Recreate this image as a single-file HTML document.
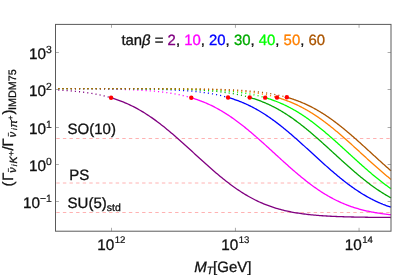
<!DOCTYPE html>
<html><head><meta charset="utf-8"><style>
html,body{margin:0;padding:0;background:#fff;}
text{stroke:#111;stroke-width:0.3px;}
svg{display:block;will-change:transform;text-rendering:geometricPrecision;font-family:"Liberation Sans",sans-serif;fill:#111;}
</style></head><body>
<svg width="415" height="275" viewBox="0 0 415 275">

<line x1="55.5" y1="138.5" x2="391.0" y2="138.5" stroke="#ff8888" stroke-width="0.65" stroke-dasharray="3.4 3.2" stroke-dashoffset="-0.8"/>
<line x1="55.5" y1="183.0" x2="391.0" y2="183.0" stroke="#ff8888" stroke-width="0.65" stroke-dasharray="3.4 3.2" stroke-dashoffset="-0.8"/>
<line x1="55.5" y1="212.5" x2="391.0" y2="212.5" stroke="#ff8888" stroke-width="0.65" stroke-dasharray="3.4 3.2" stroke-dashoffset="-0.8"/>
<path d="M55.50,89.93 L55.78,89.94 L56.06,89.96 L56.33,89.97 L56.61,89.99 L56.89,90.00 L57.17,90.01 L57.45,90.03 L57.72,90.04 L58.00,90.06 L58.28,90.07 L58.56,90.09 L58.83,90.10 L59.11,90.12 L59.39,90.13 L59.67,90.15 L59.95,90.16 L60.22,90.18 L60.50,90.19 L60.78,90.21 L61.06,90.23 L61.34,90.24 L61.61,90.26 L61.89,90.28 L62.17,90.29 L62.45,90.31 L62.73,90.33 L63.00,90.35 L63.28,90.36 L63.56,90.38 L63.84,90.40 L64.11,90.42 L64.39,90.44 L64.67,90.45 L64.95,90.47 L65.23,90.49 L65.50,90.51 L65.78,90.53 L66.06,90.55 L66.34,90.57 L66.62,90.59 L66.89,90.61 L67.17,90.63 L67.45,90.65 L67.73,90.67 L68.01,90.69 L68.28,90.71 L68.56,90.73 L68.84,90.75 L69.12,90.77 L69.39,90.80 L69.67,90.82 L69.95,90.84 L70.23,90.86 L70.51,90.88 L70.78,90.91 L71.06,90.93 L71.34,90.95 L71.62,90.98 L71.90,91.00 L72.17,91.03 L72.45,91.05 L72.73,91.07 L73.01,91.10 L73.29,91.12 L73.56,91.15 L73.84,91.17 L74.12,91.20 L74.40,91.22 L74.68,91.25 L74.95,91.28 L75.23,91.30 L75.51,91.33 L75.79,91.36 L76.06,91.39 L76.34,91.41 L76.62,91.44 L76.90,91.47 L77.18,91.50 L77.45,91.53 L77.73,91.55 L78.01,91.58 L78.29,91.61 L78.57,91.64 L78.84,91.67 L79.12,91.70 L79.40,91.73 L79.68,91.76 L79.96,91.80 L80.23,91.83 L80.51,91.86 L80.79,91.89 L81.07,91.92 L81.34,91.96 L81.62,91.99 L81.90,92.02 L82.18,92.06 L82.46,92.09 L82.73,92.12 L83.01,92.16 L83.29,92.19 L83.57,92.23 L83.85,92.26 L84.12,92.30 L84.40,92.34 L84.68,92.37 L84.96,92.41 L85.24,92.45 L85.51,92.48 L85.79,92.52 L86.07,92.56 L86.35,92.60 L86.62,92.64 L86.90,92.68 L87.18,92.72 L87.46,92.76 L87.74,92.80 L88.01,92.84 L88.29,92.88 L88.57,92.92 L88.85,92.96 L89.13,93.00 L89.40,93.05 L89.68,93.09 L89.96,93.13 L90.24,93.18 L90.52,93.22 L90.79,93.27 L91.07,93.31 L91.35,93.36 L91.63,93.40 L91.90,93.45 L92.18,93.49 L92.46,93.54 L92.74,93.59 L93.02,93.64 L93.29,93.68 L93.57,93.73 L93.85,93.78 L94.13,93.83 L94.41,93.88 L94.68,93.93 L94.96,93.98 L95.24,94.03 L95.52,94.09 L95.80,94.14 L96.07,94.19 L96.35,94.24 L96.63,94.30 L96.91,94.35 L97.18,94.41 L97.46,94.46 L97.74,94.52 L98.02,94.57 L98.30,94.63 L98.57,94.68 L98.85,94.74 L99.13,94.80 L99.41,94.86 L99.69,94.92 L99.96,94.98 L100.24,95.04 L100.52,95.10 L100.80,95.16 L101.08,95.22 L101.35,95.28 L101.63,95.34 L101.91,95.41 L102.19,95.47 L102.47,95.53 L102.74,95.60 L103.02,95.66 L103.30,95.73 L103.58,95.79 L103.85,95.86 L104.13,95.93 L104.41,95.99 L104.69,96.06 L104.97,96.13 L105.24,96.20 L105.52,96.27 L105.80,96.34 L106.08,96.41 L106.36,96.48 L106.63,96.56 L106.91,96.63 L107.19,96.70 L107.47,96.78 L107.75,96.85 L108.02,96.93 L108.30,97.00 L108.58,97.08 L108.86,97.15 L109.13,97.23 L109.41,97.31 L109.69,97.39 L109.97,97.47 L110.25,97.55 L110.52,97.63 L110.80,97.71 L111.08,97.79" fill="none" stroke="#800080" stroke-width="1.3" stroke-dasharray="1.1 3.06" stroke-dashoffset="-2.75"/>
<path d="M111.08,97.79 L112.48,98.21 L113.88,98.65 L115.28,99.11 L116.68,99.58 L118.08,100.07 L119.48,100.58 L120.88,101.10 L122.28,101.65 L123.68,102.21 L125.08,102.79 L126.48,103.39 L127.88,104.01 L129.27,104.65 L130.67,105.32 L132.07,106.00 L133.47,106.70 L134.87,107.42 L136.27,108.16 L137.67,108.92 L139.07,109.71 L140.47,110.51 L141.87,111.33 L143.27,112.18 L144.67,113.04 L146.07,113.93 L147.47,114.83 L148.87,115.75 L150.27,116.70 L151.67,117.66 L153.07,118.64 L154.47,119.64 L155.87,120.65 L157.27,121.69 L158.67,122.74 L160.07,123.81 L161.47,124.89 L162.87,125.99 L164.26,127.11 L165.66,128.23 L167.06,129.38 L168.46,130.53 L169.86,131.70 L171.26,132.88 L172.66,134.08 L174.06,135.28 L175.46,136.49 L176.86,137.72 L178.26,138.95 L179.66,140.19 L181.06,141.44 L182.46,142.69 L183.86,143.95 L185.26,145.21 L186.66,146.48 L188.06,147.76 L189.46,149.03 L190.86,150.31 L192.26,151.59 L193.66,152.87 L195.06,154.16 L196.46,155.44 L197.86,156.72 L199.25,157.99 L200.65,159.27 L202.05,160.54 L203.45,161.81 L204.85,163.07 L206.25,164.32 L207.65,165.57 L209.05,166.82 L210.45,168.05 L211.85,169.28 L213.25,170.50 L214.65,171.70 L216.05,172.90 L217.45,174.08 L218.85,175.26 L220.25,176.42 L221.65,177.57 L223.05,178.70 L224.45,179.82 L225.85,180.93 L227.25,182.02 L228.65,183.09 L230.05,184.15 L231.45,185.19 L232.85,186.21 L234.24,187.22 L235.64,188.21 L237.04,189.18 L238.44,190.13 L239.84,191.06 L241.24,191.97 L242.64,192.86 L244.04,193.73 L245.44,194.58 L246.84,195.42 L248.24,196.23 L249.64,197.02 L251.04,197.79 L252.44,198.54 L253.84,199.27 L255.24,199.98 L256.64,200.66 L258.04,201.33 L259.44,201.98 L260.84,202.61 L262.24,203.22 L263.64,203.81 L265.04,204.38 L266.44,204.93 L267.84,205.46 L269.23,205.98 L270.63,206.47 L272.03,206.95 L273.43,207.41 L274.83,207.86 L276.23,208.29 L277.63,208.70 L279.03,209.10 L280.43,209.48 L281.83,209.84 L283.23,210.19 L284.63,210.53 L286.03,210.85 L287.43,211.16 L288.83,211.46 L290.23,211.75 L291.63,212.02 L293.03,212.28 L294.43,212.53 L295.83,212.77 L297.23,213.00 L298.63,213.22 L300.03,213.43 L301.43,213.63 L302.83,213.82 L304.22,214.00 L305.62,214.18 L307.02,214.34 L308.42,214.50 L309.82,214.65 L311.22,214.80 L312.62,214.94 L314.02,215.07 L315.42,215.19 L316.82,215.31 L318.22,215.42 L319.62,215.53 L321.02,215.64 L322.42,215.73 L323.82,215.83 L325.22,215.92 L326.62,216.00 L328.02,216.08 L329.42,216.16 L330.82,216.23 L332.22,216.30 L333.62,216.37 L335.02,216.43 L336.42,216.49 L337.82,216.55 L339.21,216.60 L340.61,216.65 L342.01,216.70 L343.41,216.75 L344.81,216.79 L346.21,216.83 L347.61,216.87 L349.01,216.91 L350.41,216.95 L351.81,216.98 L353.21,217.02 L354.61,217.05 L356.01,217.08 L357.41,217.10 L358.81,217.13 L360.21,217.16 L361.61,217.18 L363.01,217.20 L364.41,217.22 L365.81,217.24 L367.21,217.26 L368.61,217.28 L370.01,217.30 L371.41,217.32 L372.81,217.33 L374.20,217.35 L375.60,217.36 L377.00,217.38 L378.40,217.39 L379.80,217.40 L381.20,217.41 L382.60,217.42 L384.00,217.43 L385.40,217.44 L386.80,217.45 L388.20,217.46 L389.60,217.47 L391.00,217.48" fill="none" stroke="#800080" stroke-width="1.3"/>
<path d="M55.50,88.68 L56.18,88.68 L56.86,88.68 L57.54,88.68 L58.22,88.68 L58.89,88.69 L59.57,88.69 L60.25,88.69 L60.93,88.69 L61.61,88.69 L62.29,88.70 L62.97,88.70 L63.65,88.70 L64.33,88.70 L65.01,88.70 L65.69,88.71 L66.36,88.71 L67.04,88.71 L67.72,88.72 L68.40,88.72 L69.08,88.72 L69.76,88.72 L70.44,88.73 L71.12,88.73 L71.80,88.73 L72.47,88.74 L73.15,88.74 L73.83,88.74 L74.51,88.75 L75.19,88.75 L75.87,88.75 L76.55,88.76 L77.23,88.76 L77.91,88.76 L78.59,88.77 L79.26,88.77 L79.94,88.78 L80.62,88.78 L81.30,88.79 L81.98,88.79 L82.66,88.79 L83.34,88.80 L84.02,88.80 L84.70,88.81 L85.38,88.81 L86.05,88.82 L86.73,88.83 L87.41,88.83 L88.09,88.84 L88.77,88.84 L89.45,88.85 L90.13,88.85 L90.81,88.86 L91.49,88.87 L92.17,88.87 L92.84,88.88 L93.52,88.89 L94.20,88.89 L94.88,88.90 L95.56,88.91 L96.24,88.92 L96.92,88.92 L97.60,88.93 L98.28,88.94 L98.96,88.95 L99.63,88.96 L100.31,88.97 L100.99,88.98 L101.67,88.99 L102.35,89.00 L103.03,89.00 L103.71,89.01 L104.39,89.03 L105.07,89.04 L105.75,89.05 L106.42,89.06 L107.10,89.07 L107.78,89.08 L108.46,89.09 L109.14,89.11 L109.82,89.12 L110.50,89.13 L111.18,89.14 L111.86,89.16 L112.54,89.17 L113.21,89.19 L113.89,89.20 L114.57,89.22 L115.25,89.23 L115.93,89.25 L116.61,89.26 L117.29,89.28 L117.97,89.30 L118.65,89.31 L119.33,89.33 L120.01,89.35 L120.68,89.37 L121.36,89.39 L122.04,89.41 L122.72,89.43 L123.40,89.45 L124.08,89.47 L124.76,89.49 L125.44,89.51 L126.12,89.54 L126.79,89.56 L127.47,89.58 L128.15,89.61 L128.83,89.63 L129.51,89.66 L130.19,89.69 L130.87,89.71 L131.55,89.74 L132.23,89.77 L132.91,89.80 L133.58,89.83 L134.26,89.86 L134.94,89.89 L135.62,89.92 L136.30,89.96 L136.98,89.99 L137.66,90.02 L138.34,90.06 L139.02,90.10 L139.70,90.13 L140.37,90.17 L141.05,90.21 L141.73,90.25 L142.41,90.29 L143.09,90.33 L143.77,90.38 L144.45,90.42 L145.13,90.46 L145.81,90.51 L146.49,90.56 L147.17,90.61 L147.84,90.65 L148.52,90.71 L149.20,90.76 L149.88,90.81 L150.56,90.86 L151.24,90.92 L151.92,90.98 L152.60,91.04 L153.28,91.10 L153.95,91.16 L154.63,91.22 L155.31,91.28 L155.99,91.35 L156.67,91.42 L157.35,91.48 L158.03,91.55 L158.71,91.63 L159.39,91.70 L160.07,91.77 L160.74,91.85 L161.42,91.93 L162.10,92.01 L162.78,92.09 L163.46,92.18 L164.14,92.26 L164.82,92.35 L165.50,92.44 L166.18,92.53 L166.86,92.63 L167.53,92.72 L168.21,92.82 L168.89,92.92 L169.57,93.03 L170.25,93.13 L170.93,93.24 L171.61,93.35 L172.29,93.46 L172.97,93.58 L173.65,93.69 L174.33,93.81 L175.00,93.94 L175.68,94.06 L176.36,94.19 L177.04,94.32 L177.72,94.45 L178.40,94.59 L179.08,94.73 L179.76,94.87 L180.44,95.01 L181.11,95.16 L181.79,95.31 L182.47,95.47 L183.15,95.62 L183.83,95.78 L184.51,95.95 L185.19,96.11 L185.87,96.28 L186.55,96.46 L187.23,96.63 L187.90,96.81 L188.58,97.00 L189.26,97.18 L189.94,97.38 L190.62,97.57 L191.30,97.77" fill="none" stroke="#ff00ff" stroke-width="1.3" stroke-dasharray="1.1 3.06" stroke-dashoffset="-2.75"/>
<path d="M191.30,97.77 L192.30,98.07 L193.30,98.37 L194.30,98.69 L195.29,99.01 L196.29,99.35 L197.29,99.69 L198.29,100.04 L199.29,100.40 L200.29,100.77 L201.28,101.14 L202.28,101.53 L203.28,101.93 L204.28,102.33 L205.28,102.75 L206.28,103.18 L207.28,103.61 L208.27,104.06 L209.27,104.52 L210.27,104.98 L211.27,105.46 L212.27,105.94 L213.27,106.44 L214.27,106.95 L215.26,107.47 L216.26,108.00 L217.26,108.53 L218.26,109.08 L219.26,109.64 L220.26,110.21 L221.25,110.79 L222.25,111.38 L223.25,111.98 L224.25,112.60 L225.25,113.22 L226.25,113.85 L227.25,114.49 L228.24,115.14 L229.24,115.80 L230.24,116.48 L231.24,117.16 L232.24,117.85 L233.24,118.55 L234.24,119.26 L235.23,119.97 L236.23,120.70 L237.23,121.44 L238.23,122.18 L239.23,122.94 L240.23,123.70 L241.23,124.47 L242.22,125.25 L243.22,126.04 L244.22,126.83 L245.22,127.63 L246.22,128.44 L247.22,129.26 L248.21,130.08 L249.21,130.91 L250.21,131.74 L251.21,132.59 L252.21,133.43 L253.21,134.29 L254.21,135.15 L255.20,136.01 L256.20,136.88 L257.20,137.75 L258.20,138.63 L259.20,139.51 L260.20,140.40 L261.19,141.29 L262.19,142.18 L263.19,143.08 L264.19,143.98 L265.19,144.88 L266.19,145.78 L267.19,146.69 L268.18,147.60 L269.18,148.51 L270.18,149.42 L271.18,150.33 L272.18,151.25 L273.18,152.16 L274.18,153.07 L275.17,153.99 L276.17,154.90 L277.17,155.82 L278.17,156.73 L279.17,157.64 L280.17,158.55 L281.16,159.46 L282.16,160.37 L283.16,161.27 L284.16,162.17 L285.16,163.07 L286.16,163.97 L287.16,164.86 L288.15,165.75 L289.15,166.64 L290.15,167.52 L291.15,168.40 L292.15,169.28 L293.15,170.14 L294.15,171.01 L295.14,171.87 L296.14,172.72 L297.14,173.57 L298.14,174.41 L299.14,175.25 L300.14,176.08 L301.13,176.90 L302.13,177.72 L303.13,178.53 L304.13,179.33 L305.13,180.13 L306.13,180.91 L307.13,181.69 L308.12,182.46 L309.12,183.23 L310.12,183.98 L311.12,184.73 L312.12,185.46 L313.12,186.19 L314.12,186.91 L315.11,187.62 L316.11,188.32 L317.11,189.02 L318.11,189.70 L319.11,190.37 L320.11,191.03 L321.11,191.69 L322.10,192.33 L323.10,192.96 L324.10,193.58 L325.10,194.20 L326.10,194.80 L327.10,195.39 L328.09,195.97 L329.09,196.54 L330.09,197.10 L331.09,197.65 L332.09,198.19 L333.09,198.72 L334.09,199.24 L335.08,199.75 L336.08,200.25 L337.08,200.73 L338.08,201.21 L339.08,201.68 L340.08,202.14 L341.07,202.58 L342.07,203.02 L343.07,203.45 L344.07,203.86 L345.07,204.27 L346.07,204.67 L347.07,205.06 L348.06,205.44 L349.06,205.81 L350.06,206.17 L351.06,206.52 L352.06,206.86 L353.06,207.19 L354.06,207.52 L355.05,207.83 L356.05,208.14 L357.05,208.44 L358.05,208.73 L359.05,209.02 L360.05,209.29 L361.04,209.56 L362.04,209.82 L363.04,210.07 L364.04,210.32 L365.04,210.56 L366.04,210.79 L367.04,211.01 L368.03,211.23 L369.03,211.44 L370.03,211.65 L371.03,211.85 L372.03,212.04 L373.03,212.23 L374.03,212.41 L375.02,212.58 L376.02,212.75 L377.02,212.92 L378.02,213.08 L379.02,213.23 L380.02,213.38 L381.01,213.53 L382.01,213.67 L383.01,213.81 L384.01,213.94 L385.01,214.06 L386.01,214.19 L387.01,214.31 L388.00,214.42 L389.00,214.53 L390.00,214.64 L391.00,214.74" fill="none" stroke="#ff00ff" stroke-width="1.3"/>
<path d="M55.50,88.62 L56.36,88.63 L57.23,88.63 L58.09,88.63 L58.95,88.63 L59.81,88.63 L60.68,88.63 L61.54,88.63 L62.40,88.63 L63.26,88.63 L64.13,88.63 L64.99,88.63 L65.85,88.63 L66.72,88.63 L67.58,88.63 L68.44,88.64 L69.30,88.64 L70.17,88.64 L71.03,88.64 L71.89,88.64 L72.75,88.64 L73.62,88.64 L74.48,88.64 L75.34,88.64 L76.21,88.64 L77.07,88.65 L77.93,88.65 L78.79,88.65 L79.66,88.65 L80.52,88.65 L81.38,88.65 L82.25,88.65 L83.11,88.65 L83.97,88.66 L84.83,88.66 L85.70,88.66 L86.56,88.66 L87.42,88.66 L88.28,88.66 L89.15,88.67 L90.01,88.67 L90.87,88.67 L91.74,88.67 L92.60,88.67 L93.46,88.68 L94.32,88.68 L95.19,88.68 L96.05,88.68 L96.91,88.69 L97.77,88.69 L98.64,88.69 L99.50,88.69 L100.36,88.70 L101.23,88.70 L102.09,88.70 L102.95,88.71 L103.81,88.71 L104.68,88.71 L105.54,88.72 L106.40,88.72 L107.26,88.72 L108.13,88.73 L108.99,88.73 L109.85,88.73 L110.72,88.74 L111.58,88.74 L112.44,88.75 L113.30,88.75 L114.17,88.76 L115.03,88.76 L115.89,88.77 L116.76,88.77 L117.62,88.78 L118.48,88.78 L119.34,88.79 L120.21,88.79 L121.07,88.80 L121.93,88.81 L122.79,88.81 L123.66,88.82 L124.52,88.82 L125.38,88.83 L126.25,88.84 L127.11,88.85 L127.97,88.85 L128.83,88.86 L129.70,88.87 L130.56,88.88 L131.42,88.89 L132.28,88.90 L133.15,88.91 L134.01,88.92 L134.87,88.93 L135.74,88.94 L136.60,88.95 L137.46,88.96 L138.32,88.97 L139.19,88.98 L140.05,88.99 L140.91,89.01 L141.77,89.02 L142.64,89.03 L143.50,89.05 L144.36,89.06 L145.23,89.07 L146.09,89.09 L146.95,89.11 L147.81,89.12 L148.68,89.14 L149.54,89.16 L150.40,89.17 L151.27,89.19 L152.13,89.21 L152.99,89.23 L153.85,89.25 L154.72,89.27 L155.58,89.29 L156.44,89.31 L157.30,89.34 L158.17,89.36 L159.03,89.38 L159.89,89.41 L160.76,89.44 L161.62,89.46 L162.48,89.49 L163.34,89.52 L164.21,89.55 L165.07,89.58 L165.93,89.61 L166.79,89.64 L167.66,89.67 L168.52,89.71 L169.38,89.74 L170.25,89.78 L171.11,89.82 L171.97,89.85 L172.83,89.89 L173.70,89.94 L174.56,89.98 L175.42,90.02 L176.29,90.07 L177.15,90.11 L178.01,90.16 L178.87,90.21 L179.74,90.26 L180.60,90.31 L181.46,90.37 L182.32,90.42 L183.19,90.48 L184.05,90.54 L184.91,90.60 L185.78,90.66 L186.64,90.73 L187.50,90.80 L188.36,90.87 L189.23,90.94 L190.09,91.01 L190.95,91.08 L191.81,91.16 L192.68,91.24 L193.54,91.32 L194.40,91.41 L195.27,91.50 L196.13,91.59 L196.99,91.68 L197.85,91.77 L198.72,91.87 L199.58,91.97 L200.44,92.08 L201.30,92.18 L202.17,92.29 L203.03,92.41 L203.89,92.52 L204.76,92.64 L205.62,92.77 L206.48,92.89 L207.34,93.02 L208.21,93.16 L209.07,93.29 L209.93,93.44 L210.80,93.58 L211.66,93.73 L212.52,93.88 L213.38,94.04 L214.25,94.20 L215.11,94.37 L215.97,94.54 L216.83,94.72 L217.70,94.90 L218.56,95.08 L219.42,95.27 L220.29,95.47 L221.15,95.67 L222.01,95.87 L222.87,96.08 L223.74,96.30 L224.60,96.52 L225.46,96.75 L226.32,96.98 L227.19,97.22 L228.05,97.46" fill="none" stroke="#0000ff" stroke-width="1.3" stroke-dasharray="1.1 3.06" stroke-dashoffset="-2.75"/>
<path d="M228.05,97.46 L228.86,97.70 L229.68,97.94 L230.49,98.19 L231.31,98.44 L232.12,98.70 L232.94,98.96 L233.75,99.23 L234.57,99.51 L235.38,99.79 L236.20,100.08 L237.01,100.37 L237.83,100.67 L238.64,100.97 L239.46,101.29 L240.27,101.60 L241.09,101.93 L241.90,102.26 L242.72,102.60 L243.53,102.94 L244.35,103.29 L245.16,103.65 L245.97,104.01 L246.79,104.38 L247.60,104.76 L248.42,105.15 L249.23,105.54 L250.05,105.93 L250.86,106.34 L251.68,106.75 L252.49,107.17 L253.31,107.59 L254.12,108.03 L254.94,108.47 L255.75,108.91 L256.57,109.37 L257.38,109.83 L258.20,110.29 L259.01,110.77 L259.83,111.25 L260.64,111.74 L261.45,112.23 L262.27,112.73 L263.08,113.24 L263.90,113.75 L264.71,114.28 L265.53,114.80 L266.34,115.34 L267.16,115.88 L267.97,116.43 L268.79,116.98 L269.60,117.54 L270.42,118.11 L271.23,118.68 L272.05,119.26 L272.86,119.85 L273.68,120.44 L274.49,121.04 L275.31,121.64 L276.12,122.25 L276.94,122.87 L277.75,123.49 L278.56,124.11 L279.38,124.75 L280.19,125.38 L281.01,126.03 L281.82,126.67 L282.64,127.33 L283.45,127.98 L284.27,128.64 L285.08,129.31 L285.90,129.98 L286.71,130.66 L287.53,131.34 L288.34,132.02 L289.16,132.71 L289.97,133.40 L290.79,134.10 L291.60,134.80 L292.42,135.50 L293.23,136.21 L294.04,136.91 L294.86,137.63 L295.67,138.34 L296.49,139.06 L297.30,139.78 L298.12,140.51 L298.93,141.23 L299.75,141.96 L300.56,142.69 L301.38,143.42 L302.19,144.16 L303.01,144.90 L303.82,145.63 L304.64,146.37 L305.45,147.11 L306.27,147.86 L307.08,148.60 L307.90,149.34 L308.71,150.09 L309.52,150.83 L310.34,151.58 L311.15,152.32 L311.97,153.07 L312.78,153.81 L313.60,154.56 L314.41,155.31 L315.23,156.05 L316.04,156.80 L316.86,157.54 L317.67,158.28 L318.49,159.02 L319.30,159.77 L320.12,160.51 L320.93,161.24 L321.75,161.98 L322.56,162.71 L323.38,163.45 L324.19,164.18 L325.01,164.91 L325.82,165.63 L326.63,166.36 L327.45,167.08 L328.26,167.80 L329.08,168.51 L329.89,169.23 L330.71,169.94 L331.52,170.64 L332.34,171.35 L333.15,172.05 L333.97,172.74 L334.78,173.44 L335.60,174.12 L336.41,174.81 L337.23,175.49 L338.04,176.17 L338.86,176.84 L339.67,177.50 L340.49,178.17 L341.30,178.82 L342.11,179.48 L342.93,180.13 L343.74,180.77 L344.56,181.41 L345.37,182.04 L346.19,182.67 L347.00,183.29 L347.82,183.90 L348.63,184.51 L349.45,185.12 L350.26,185.72 L351.08,186.31 L351.89,186.90 L352.71,187.48 L353.52,188.05 L354.34,188.62 L355.15,189.18 L355.97,189.74 L356.78,190.28 L357.60,190.83 L358.41,191.36 L359.22,191.89 L360.04,192.41 L360.85,192.93 L361.67,193.44 L362.48,193.94 L363.30,194.44 L364.11,194.93 L364.93,195.41 L365.74,195.88 L366.56,196.35 L367.37,196.81 L368.19,197.27 L369.00,197.71 L369.82,198.15 L370.63,198.59 L371.45,199.01 L372.26,199.43 L373.08,199.84 L373.89,200.25 L374.70,200.65 L375.52,201.04 L376.33,201.43 L377.15,201.80 L377.96,202.18 L378.78,202.54 L379.59,202.90 L380.41,203.25 L381.22,203.59 L382.04,203.93 L382.85,204.27 L383.67,204.59 L384.48,204.91 L385.30,205.22 L386.11,205.53 L386.93,205.83 L387.74,206.12 L388.56,206.41 L389.37,206.69 L390.19,206.97 L391.00,207.24" fill="none" stroke="#0000ff" stroke-width="1.3"/>
<path d="M55.50,88.62 L56.47,88.62 L57.44,88.62 L58.41,88.62 L59.38,88.62 L60.35,88.62 L61.33,88.62 L62.30,88.62 L63.27,88.62 L64.24,88.62 L65.21,88.62 L66.18,88.62 L67.15,88.62 L68.12,88.62 L69.09,88.62 L70.06,88.62 L71.04,88.62 L72.01,88.62 L72.98,88.62 L73.95,88.62 L74.92,88.62 L75.89,88.62 L76.86,88.62 L77.83,88.63 L78.80,88.63 L79.77,88.63 L80.75,88.63 L81.72,88.63 L82.69,88.63 L83.66,88.63 L84.63,88.63 L85.60,88.63 L86.57,88.63 L87.54,88.63 L88.51,88.63 L89.48,88.63 L90.46,88.64 L91.43,88.64 L92.40,88.64 L93.37,88.64 L94.34,88.64 L95.31,88.64 L96.28,88.64 L97.25,88.64 L98.22,88.64 L99.19,88.65 L100.17,88.65 L101.14,88.65 L102.11,88.65 L103.08,88.65 L104.05,88.65 L105.02,88.65 L105.99,88.66 L106.96,88.66 L107.93,88.66 L108.90,88.66 L109.88,88.66 L110.85,88.67 L111.82,88.67 L112.79,88.67 L113.76,88.67 L114.73,88.68 L115.70,88.68 L116.67,88.68 L117.64,88.68 L118.61,88.69 L119.59,88.69 L120.56,88.69 L121.53,88.69 L122.50,88.70 L123.47,88.70 L124.44,88.70 L125.41,88.71 L126.38,88.71 L127.35,88.72 L128.33,88.72 L129.30,88.72 L130.27,88.73 L131.24,88.73 L132.21,88.74 L133.18,88.74 L134.15,88.75 L135.12,88.75 L136.09,88.76 L137.06,88.76 L138.04,88.77 L139.01,88.77 L139.98,88.78 L140.95,88.79 L141.92,88.79 L142.89,88.80 L143.86,88.81 L144.83,88.81 L145.80,88.82 L146.77,88.83 L147.75,88.84 L148.72,88.85 L149.69,88.85 L150.66,88.86 L151.63,88.87 L152.60,88.88 L153.57,88.89 L154.54,88.90 L155.51,88.91 L156.48,88.93 L157.45,88.94 L158.43,88.95 L159.40,88.96 L160.37,88.97 L161.34,88.99 L162.31,89.00 L163.28,89.02 L164.25,89.03 L165.22,89.05 L166.19,89.06 L167.16,89.08 L168.14,89.10 L169.11,89.11 L170.08,89.13 L171.05,89.15 L172.02,89.17 L172.99,89.19 L173.96,89.21 L174.93,89.24 L175.90,89.26 L176.87,89.28 L177.85,89.31 L178.82,89.33 L179.79,89.36 L180.76,89.39 L181.73,89.41 L182.70,89.44 L183.67,89.47 L184.64,89.50 L185.61,89.54 L186.59,89.57 L187.56,89.61 L188.53,89.64 L189.50,89.68 L190.47,89.72 L191.44,89.76 L192.41,89.80 L193.38,89.84 L194.35,89.89 L195.32,89.93 L196.30,89.98 L197.27,90.03 L198.24,90.08 L199.21,90.13 L200.18,90.19 L201.15,90.24 L202.12,90.30 L203.09,90.36 L204.06,90.43 L205.03,90.49 L206.00,90.56 L206.98,90.63 L207.95,90.70 L208.92,90.77 L209.89,90.85 L210.86,90.93 L211.83,91.01 L212.80,91.10 L213.77,91.19 L214.74,91.28 L215.71,91.37 L216.69,91.47 L217.66,91.57 L218.63,91.67 L219.60,91.78 L220.57,91.89 L221.54,92.00 L222.51,92.12 L223.48,92.24 L224.45,92.37 L225.43,92.50 L226.40,92.63 L227.37,92.77 L228.34,92.92 L229.31,93.06 L230.28,93.22 L231.25,93.37 L232.22,93.53 L233.19,93.70 L234.16,93.87 L235.14,94.05 L236.11,94.23 L237.08,94.42 L238.05,94.62 L239.02,94.82 L239.99,95.02 L240.96,95.24 L241.93,95.46 L242.90,95.68 L243.87,95.91 L244.85,96.15 L245.82,96.40 L246.79,96.65 L247.76,96.91 L248.73,97.17 L249.70,97.45" fill="none" stroke="#00aa00" stroke-width="1.3" stroke-dasharray="1.1 3.06" stroke-dashoffset="-2.75"/>
<path d="M249.70,97.45 L250.41,97.65 L251.11,97.86 L251.82,98.07 L252.53,98.29 L253.23,98.51 L253.94,98.74 L254.65,98.96 L255.35,99.20 L256.06,99.44 L256.76,99.68 L257.47,99.92 L258.18,100.18 L258.88,100.43 L259.59,100.69 L260.30,100.96 L261.00,101.23 L261.71,101.50 L262.42,101.78 L263.12,102.07 L263.83,102.35 L264.54,102.65 L265.24,102.95 L265.95,103.25 L266.66,103.56 L267.36,103.87 L268.07,104.19 L268.78,104.52 L269.48,104.85 L270.19,105.18 L270.89,105.52 L271.60,105.86 L272.31,106.21 L273.01,106.57 L273.72,106.93 L274.43,107.29 L275.13,107.66 L275.84,108.04 L276.55,108.42 L277.25,108.80 L277.96,109.19 L278.67,109.59 L279.37,109.99 L280.08,110.40 L280.79,110.81 L281.49,111.23 L282.20,111.65 L282.91,112.08 L283.61,112.51 L284.32,112.95 L285.02,113.39 L285.73,113.84 L286.44,114.29 L287.14,114.75 L287.85,115.21 L288.56,115.68 L289.26,116.15 L289.97,116.63 L290.68,117.11 L291.38,117.60 L292.09,118.09 L292.80,118.59 L293.50,119.09 L294.21,119.60 L294.92,120.11 L295.62,120.62 L296.33,121.14 L297.04,121.67 L297.74,122.19 L298.45,122.73 L299.15,123.26 L299.86,123.80 L300.57,124.35 L301.27,124.90 L301.98,125.45 L302.69,126.01 L303.39,126.57 L304.10,127.13 L304.81,127.70 L305.51,128.27 L306.22,128.85 L306.93,129.43 L307.63,130.01 L308.34,130.60 L309.05,131.19 L309.75,131.78 L310.46,132.37 L311.17,132.97 L311.87,133.57 L312.58,134.18 L313.28,134.78 L313.99,135.39 L314.70,136.00 L315.40,136.62 L316.11,137.23 L316.82,137.85 L317.52,138.48 L318.23,139.10 L318.94,139.72 L319.64,140.35 L320.35,140.98 L321.06,141.61 L321.76,142.24 L322.47,142.88 L323.18,143.51 L323.88,144.15 L324.59,144.79 L325.30,145.43 L326.00,146.07 L326.71,146.71 L327.42,147.35 L328.12,148.00 L328.83,148.64 L329.53,149.29 L330.24,149.93 L330.95,150.58 L331.65,151.22 L332.36,151.87 L333.07,152.52 L333.77,153.16 L334.48,153.81 L335.19,154.46 L335.89,155.10 L336.60,155.75 L337.31,156.40 L338.01,157.04 L338.72,157.69 L339.43,158.33 L340.13,158.97 L340.84,159.62 L341.55,160.26 L342.25,160.90 L342.96,161.54 L343.66,162.18 L344.37,162.81 L345.08,163.45 L345.78,164.08 L346.49,164.72 L347.20,165.35 L347.90,165.98 L348.61,166.60 L349.32,167.23 L350.02,167.85 L350.73,168.47 L351.44,169.09 L352.14,169.71 L352.85,170.32 L353.56,170.93 L354.26,171.54 L354.97,172.15 L355.68,172.75 L356.38,173.35 L357.09,173.95 L357.79,174.54 L358.50,175.13 L359.21,175.72 L359.91,176.31 L360.62,176.89 L361.33,177.47 L362.03,178.04 L362.74,178.62 L363.45,179.18 L364.15,179.75 L364.86,180.31 L365.57,180.86 L366.27,181.42 L366.98,181.97 L367.69,182.51 L368.39,183.05 L369.10,183.59 L369.81,184.12 L370.51,184.65 L371.22,185.17 L371.92,185.69 L372.63,186.20 L373.34,186.71 L374.04,187.22 L374.75,187.72 L375.46,188.22 L376.16,188.71 L376.87,189.19 L377.58,189.68 L378.28,190.15 L378.99,190.62 L379.70,191.09 L380.40,191.55 L381.11,192.01 L381.82,192.46 L382.52,192.91 L383.23,193.35 L383.93,193.79 L384.64,194.22 L385.35,194.65 L386.05,195.07 L386.76,195.49 L387.47,195.90 L388.17,196.30 L388.88,196.70 L389.59,197.10 L390.29,197.49 L391.00,197.87" fill="none" stroke="#00aa00" stroke-width="1.3"/>
<path d="M55.50,88.61 L56.55,88.61 L57.60,88.61 L58.64,88.61 L59.69,88.61 L60.74,88.61 L61.79,88.61 L62.84,88.61 L63.89,88.61 L64.93,88.61 L65.98,88.61 L67.03,88.61 L68.08,88.61 L69.13,88.62 L70.18,88.62 L71.22,88.62 L72.27,88.62 L73.32,88.62 L74.37,88.62 L75.42,88.62 L76.47,88.62 L77.51,88.62 L78.56,88.62 L79.61,88.62 L80.66,88.62 L81.71,88.62 L82.76,88.62 L83.80,88.62 L84.85,88.62 L85.90,88.62 L86.95,88.62 L88.00,88.62 L89.05,88.62 L90.09,88.62 L91.14,88.62 L92.19,88.62 L93.24,88.63 L94.29,88.63 L95.34,88.63 L96.38,88.63 L97.43,88.63 L98.48,88.63 L99.53,88.63 L100.58,88.63 L101.63,88.63 L102.67,88.63 L103.72,88.63 L104.77,88.63 L105.82,88.64 L106.87,88.64 L107.91,88.64 L108.96,88.64 L110.01,88.64 L111.06,88.64 L112.11,88.64 L113.16,88.64 L114.20,88.65 L115.25,88.65 L116.30,88.65 L117.35,88.65 L118.40,88.65 L119.45,88.65 L120.49,88.66 L121.54,88.66 L122.59,88.66 L123.64,88.66 L124.69,88.66 L125.74,88.67 L126.78,88.67 L127.83,88.67 L128.88,88.67 L129.93,88.68 L130.98,88.68 L132.03,88.68 L133.07,88.68 L134.12,88.69 L135.17,88.69 L136.22,88.69 L137.27,88.70 L138.32,88.70 L139.36,88.71 L140.41,88.71 L141.46,88.71 L142.51,88.72 L143.56,88.72 L144.61,88.73 L145.65,88.73 L146.70,88.74 L147.75,88.74 L148.80,88.75 L149.85,88.75 L150.90,88.76 L151.94,88.76 L152.99,88.77 L154.04,88.78 L155.09,88.78 L156.14,88.79 L157.19,88.80 L158.23,88.80 L159.28,88.81 L160.33,88.82 L161.38,88.83 L162.43,88.84 L163.47,88.85 L164.52,88.86 L165.57,88.86 L166.62,88.88 L167.67,88.89 L168.72,88.90 L169.76,88.91 L170.81,88.92 L171.86,88.93 L172.91,88.95 L173.96,88.96 L175.01,88.97 L176.05,88.99 L177.10,89.00 L178.15,89.02 L179.20,89.03 L180.25,89.05 L181.30,89.07 L182.34,89.09 L183.39,89.10 L184.44,89.12 L185.49,89.14 L186.54,89.17 L187.59,89.19 L188.63,89.21 L189.68,89.23 L190.73,89.26 L191.78,89.28 L192.83,89.31 L193.88,89.34 L194.92,89.37 L195.97,89.40 L197.02,89.43 L198.07,89.46 L199.12,89.49 L200.17,89.53 L201.21,89.56 L202.26,89.60 L203.31,89.64 L204.36,89.68 L205.41,89.72 L206.46,89.77 L207.50,89.81 L208.55,89.86 L209.60,89.91 L210.65,89.96 L211.70,90.01 L212.75,90.06 L213.79,90.12 L214.84,90.18 L215.89,90.24 L216.94,90.30 L217.99,90.37 L219.03,90.44 L220.08,90.51 L221.13,90.58 L222.18,90.66 L223.23,90.74 L224.28,90.82 L225.32,90.90 L226.37,90.99 L227.42,91.08 L228.47,91.18 L229.52,91.27 L230.57,91.38 L231.61,91.48 L232.66,91.59 L233.71,91.70 L234.76,91.82 L235.81,91.94 L236.86,92.07 L237.90,92.20 L238.95,92.33 L240.00,92.47 L241.05,92.61 L242.10,92.76 L243.15,92.92 L244.19,93.08 L245.24,93.24 L246.29,93.41 L247.34,93.59 L248.39,93.77 L249.44,93.96 L250.48,94.15 L251.53,94.36 L252.58,94.56 L253.63,94.78 L254.68,95.00 L255.73,95.23 L256.77,95.47 L257.82,95.71 L258.87,95.96 L259.92,96.22 L260.97,96.49 L262.02,96.76 L263.06,97.05 L264.11,97.34 L265.16,97.64" fill="none" stroke="#00ff00" stroke-width="1.3" stroke-dasharray="1.1 3.06" stroke-dashoffset="-2.75"/>
<path d="M265.16,97.64 L265.79,97.82 L266.42,98.01 L267.05,98.20 L267.68,98.40 L268.31,98.60 L268.94,98.80 L269.56,99.00 L270.19,99.21 L270.82,99.42 L271.45,99.64 L272.08,99.86 L272.71,100.08 L273.34,100.31 L273.97,100.54 L274.60,100.77 L275.23,101.01 L275.86,101.25 L276.49,101.49 L277.11,101.74 L277.74,101.99 L278.37,102.25 L279.00,102.51 L279.63,102.77 L280.26,103.04 L280.89,103.31 L281.52,103.59 L282.15,103.87 L282.78,104.15 L283.41,104.44 L284.04,104.73 L284.67,105.03 L285.29,105.33 L285.92,105.63 L286.55,105.94 L287.18,106.25 L287.81,106.57 L288.44,106.89 L289.07,107.21 L289.70,107.54 L290.33,107.87 L290.96,108.21 L291.59,108.55 L292.22,108.89 L292.84,109.24 L293.47,109.60 L294.10,109.95 L294.73,110.31 L295.36,110.68 L295.99,111.05 L296.62,111.42 L297.25,111.80 L297.88,112.18 L298.51,112.57 L299.14,112.96 L299.77,113.35 L300.40,113.75 L301.02,114.15 L301.65,114.56 L302.28,114.97 L302.91,115.38 L303.54,115.80 L304.17,116.22 L304.80,116.65 L305.43,117.08 L306.06,117.51 L306.69,117.95 L307.32,118.39 L307.95,118.84 L308.57,119.28 L309.20,119.74 L309.83,120.19 L310.46,120.65 L311.09,121.11 L311.72,121.58 L312.35,122.05 L312.98,122.52 L313.61,123.00 L314.24,123.48 L314.87,123.96 L315.50,124.45 L316.13,124.94 L316.75,125.43 L317.38,125.93 L318.01,126.43 L318.64,126.93 L319.27,127.43 L319.90,127.94 L320.53,128.45 L321.16,128.96 L321.79,129.48 L322.42,130.00 L323.05,130.52 L323.68,131.04 L324.30,131.57 L324.93,132.10 L325.56,132.63 L326.19,133.16 L326.82,133.70 L327.45,134.24 L328.08,134.78 L328.71,135.32 L329.34,135.87 L329.97,136.41 L330.60,136.96 L331.23,137.51 L331.86,138.06 L332.48,138.62 L333.11,139.17 L333.74,139.73 L334.37,140.29 L335.00,140.85 L335.63,141.41 L336.26,141.97 L336.89,142.54 L337.52,143.10 L338.15,143.67 L338.78,144.24 L339.41,144.80 L340.03,145.37 L340.66,145.94 L341.29,146.52 L341.92,147.09 L342.55,147.66 L343.18,148.23 L343.81,148.81 L344.44,149.38 L345.07,149.96 L345.70,150.53 L346.33,151.11 L346.96,151.68 L347.59,152.26 L348.21,152.84 L348.84,153.41 L349.47,153.99 L350.10,154.56 L350.73,155.14 L351.36,155.72 L351.99,156.29 L352.62,156.87 L353.25,157.44 L353.88,158.01 L354.51,158.59 L355.14,159.16 L355.76,159.73 L356.39,160.30 L357.02,160.87 L357.65,161.44 L358.28,162.01 L358.91,162.58 L359.54,163.15 L360.17,163.71 L360.80,164.28 L361.43,164.84 L362.06,165.40 L362.69,165.96 L363.32,166.52 L363.94,167.08 L364.57,167.63 L365.20,168.18 L365.83,168.74 L366.46,169.29 L367.09,169.84 L367.72,170.38 L368.35,170.93 L368.98,171.47 L369.61,172.01 L370.24,172.55 L370.87,173.08 L371.49,173.62 L372.12,174.15 L372.75,174.68 L373.38,175.20 L374.01,175.73 L374.64,176.25 L375.27,176.77 L375.90,177.28 L376.53,177.80 L377.16,178.31 L377.79,178.81 L378.42,179.32 L379.05,179.82 L379.67,180.32 L380.30,180.82 L380.93,181.31 L381.56,181.80 L382.19,182.28 L382.82,182.77 L383.45,183.25 L384.08,183.72 L384.71,184.20 L385.34,184.67 L385.97,185.13 L386.60,185.59 L387.22,186.05 L387.85,186.51 L388.48,186.96 L389.11,187.41 L389.74,187.85 L390.37,188.30 L391.00,188.73" fill="none" stroke="#00ff00" stroke-width="1.3"/>
<path d="M55.50,88.61 L56.61,88.61 L57.71,88.61 L58.82,88.61 L59.93,88.61 L61.04,88.61 L62.14,88.61 L63.25,88.61 L64.36,88.61 L65.47,88.61 L66.57,88.61 L67.68,88.61 L68.79,88.61 L69.90,88.61 L71.00,88.61 L72.11,88.61 L73.22,88.61 L74.33,88.61 L75.43,88.61 L76.54,88.61 L77.65,88.61 L78.76,88.61 L79.86,88.61 L80.97,88.61 L82.08,88.62 L83.19,88.62 L84.30,88.62 L85.40,88.62 L86.51,88.62 L87.62,88.62 L88.72,88.62 L89.83,88.62 L90.94,88.62 L92.05,88.62 L93.15,88.62 L94.26,88.62 L95.37,88.62 L96.48,88.62 L97.59,88.62 L98.69,88.62 L99.80,88.62 L100.91,88.62 L102.01,88.62 L103.12,88.62 L104.23,88.62 L105.34,88.63 L106.44,88.63 L107.55,88.63 L108.66,88.63 L109.77,88.63 L110.88,88.63 L111.98,88.63 L113.09,88.63 L114.20,88.63 L115.30,88.63 L116.41,88.63 L117.52,88.64 L118.63,88.64 L119.73,88.64 L120.84,88.64 L121.95,88.64 L123.06,88.64 L124.16,88.64 L125.27,88.64 L126.38,88.65 L127.49,88.65 L128.59,88.65 L129.70,88.65 L130.81,88.65 L131.92,88.65 L133.02,88.66 L134.13,88.66 L135.24,88.66 L136.35,88.66 L137.45,88.66 L138.56,88.67 L139.67,88.67 L140.78,88.67 L141.88,88.68 L142.99,88.68 L144.10,88.68 L145.21,88.68 L146.31,88.69 L147.42,88.69 L148.53,88.69 L149.64,88.70 L150.74,88.70 L151.85,88.71 L152.96,88.71 L154.07,88.71 L155.18,88.72 L156.28,88.72 L157.39,88.73 L158.50,88.73 L159.60,88.74 L160.71,88.74 L161.82,88.75 L162.93,88.75 L164.03,88.76 L165.14,88.77 L166.25,88.77 L167.36,88.78 L168.47,88.79 L169.57,88.80 L170.68,88.80 L171.79,88.81 L172.89,88.82 L174.00,88.83 L175.11,88.84 L176.22,88.85 L177.32,88.86 L178.43,88.87 L179.54,88.88 L180.65,88.89 L181.76,88.90 L182.86,88.91 L183.97,88.93 L185.08,88.94 L186.18,88.95 L187.29,88.97 L188.40,88.98 L189.51,89.00 L190.61,89.02 L191.72,89.03 L192.83,89.05 L193.94,89.07 L195.05,89.09 L196.15,89.11 L197.26,89.13 L198.37,89.15 L199.47,89.17 L200.58,89.20 L201.69,89.22 L202.80,89.25 L203.90,89.28 L205.01,89.30 L206.12,89.33 L207.23,89.36 L208.34,89.39 L209.44,89.43 L210.55,89.46 L211.66,89.49 L212.76,89.53 L213.87,89.57 L214.98,89.61 L216.09,89.65 L217.19,89.69 L218.30,89.74 L219.41,89.79 L220.52,89.83 L221.63,89.88 L222.73,89.94 L223.84,89.99 L224.95,90.05 L226.05,90.11 L227.16,90.17 L228.27,90.23 L229.38,90.30 L230.48,90.37 L231.59,90.44 L232.70,90.52 L233.81,90.59 L234.91,90.67 L236.02,90.76 L237.13,90.85 L238.24,90.94 L239.34,91.03 L240.45,91.13 L241.56,91.23 L242.67,91.34 L243.77,91.45 L244.88,91.56 L245.99,91.68 L247.10,91.80 L248.21,91.93 L249.31,92.06 L250.42,92.20 L251.53,92.34 L252.63,92.49 L253.74,92.64 L254.85,92.80 L255.96,92.96 L257.06,93.13 L258.17,93.31 L259.28,93.49 L260.39,93.68 L261.49,93.88 L262.60,94.08 L263.71,94.29 L264.82,94.51 L265.93,94.74 L267.03,94.97 L268.14,95.21 L269.25,95.46 L270.35,95.72 L271.46,95.98 L272.57,96.26 L273.68,96.54 L274.78,96.83 L275.89,97.14 L277.00,97.45" fill="none" stroke="#ff8000" stroke-width="1.3" stroke-dasharray="1.1 3.06" stroke-dashoffset="-2.75"/>
<path d="M277.00,97.45 L277.57,97.61 L278.14,97.78 L278.71,97.95 L279.28,98.12 L279.85,98.30 L280.42,98.48 L280.99,98.66 L281.56,98.84 L282.13,99.02 L282.70,99.21 L283.27,99.41 L283.84,99.60 L284.41,99.80 L284.98,100.00 L285.55,100.20 L286.12,100.41 L286.69,100.62 L287.26,100.83 L287.83,101.05 L288.40,101.26 L288.97,101.49 L289.54,101.71 L290.11,101.94 L290.68,102.17 L291.25,102.40 L291.82,102.64 L292.39,102.88 L292.96,103.13 L293.53,103.37 L294.10,103.62 L294.67,103.88 L295.24,104.13 L295.81,104.39 L296.38,104.66 L296.95,104.92 L297.52,105.19 L298.09,105.47 L298.66,105.74 L299.23,106.02 L299.80,106.31 L300.37,106.59 L300.94,106.89 L301.51,107.18 L302.08,107.48 L302.65,107.78 L303.22,108.08 L303.79,108.39 L304.36,108.70 L304.93,109.01 L305.50,109.33 L306.07,109.65 L306.64,109.97 L307.21,110.30 L307.78,110.63 L308.35,110.97 L308.92,111.30 L309.49,111.65 L310.06,111.99 L310.63,112.34 L311.20,112.69 L311.77,113.04 L312.34,113.40 L312.91,113.76 L313.48,114.13 L314.05,114.49 L314.62,114.86 L315.19,115.24 L315.76,115.62 L316.33,116.00 L316.90,116.38 L317.47,116.77 L318.04,117.16 L318.61,117.55 L319.18,117.95 L319.75,118.34 L320.32,118.75 L320.89,119.15 L321.46,119.56 L322.03,119.97 L322.60,120.39 L323.17,120.80 L323.74,121.22 L324.31,121.65 L324.88,122.07 L325.45,122.50 L326.02,122.93 L326.59,123.37 L327.16,123.80 L327.73,124.24 L328.30,124.68 L328.87,125.13 L329.44,125.58 L330.01,126.03 L330.58,126.48 L331.15,126.93 L331.72,127.39 L332.29,127.85 L332.86,128.31 L333.43,128.78 L334.00,129.24 L334.57,129.71 L335.14,130.18 L335.71,130.66 L336.28,131.13 L336.85,131.61 L337.42,132.09 L337.99,132.57 L338.56,133.05 L339.13,133.54 L339.70,134.02 L340.27,134.51 L340.84,135.00 L341.41,135.49 L341.98,135.99 L342.55,136.48 L343.12,136.98 L343.69,137.48 L344.26,137.98 L344.83,138.48 L345.40,138.98 L345.97,139.49 L346.54,139.99 L347.11,140.50 L347.68,141.01 L348.25,141.52 L348.82,142.03 L349.39,142.54 L349.96,143.05 L350.53,143.56 L351.10,144.08 L351.67,144.59 L352.24,145.11 L352.81,145.62 L353.38,146.14 L353.95,146.66 L354.52,147.18 L355.09,147.70 L355.66,148.21 L356.23,148.73 L356.80,149.25 L357.37,149.78 L357.94,150.30 L358.51,150.82 L359.08,151.34 L359.65,151.86 L360.22,152.38 L360.79,152.90 L361.36,153.43 L361.93,153.95 L362.50,154.47 L363.07,154.99 L363.64,155.51 L364.21,156.03 L364.78,156.56 L365.35,157.08 L365.92,157.60 L366.49,158.12 L367.06,158.64 L367.63,159.15 L368.20,159.67 L368.77,160.19 L369.34,160.71 L369.91,161.22 L370.48,161.74 L371.05,162.25 L371.62,162.77 L372.19,163.28 L372.76,163.79 L373.33,164.30 L373.90,164.81 L374.47,165.32 L375.04,165.83 L375.61,166.34 L376.18,166.84 L376.75,167.35 L377.32,167.85 L377.89,168.35 L378.46,168.85 L379.03,169.35 L379.60,169.84 L380.17,170.34 L380.74,170.83 L381.31,171.32 L381.88,171.81 L382.45,172.30 L383.02,172.79 L383.59,173.27 L384.16,173.76 L384.73,174.24 L385.30,174.72 L385.87,175.19 L386.44,175.67 L387.01,176.14 L387.58,176.61 L388.15,177.08 L388.72,177.54 L389.29,178.01 L389.86,178.47 L390.43,178.93 L391.00,179.39" fill="none" stroke="#ff8000" stroke-width="1.3"/>
<path d="M55.50,88.61 L56.66,88.61 L57.81,88.61 L58.97,88.61 L60.13,88.61 L61.28,88.61 L62.44,88.61 L63.60,88.61 L64.75,88.61 L65.91,88.61 L67.07,88.61 L68.22,88.61 L69.38,88.61 L70.54,88.61 L71.69,88.61 L72.85,88.61 L74.01,88.61 L75.16,88.61 L76.32,88.61 L77.48,88.61 L78.63,88.61 L79.79,88.61 L80.95,88.61 L82.10,88.61 L83.26,88.61 L84.42,88.61 L85.57,88.61 L86.73,88.61 L87.89,88.61 L89.04,88.61 L90.20,88.61 L91.36,88.61 L92.51,88.62 L93.67,88.62 L94.83,88.62 L95.98,88.62 L97.14,88.62 L98.30,88.62 L99.45,88.62 L100.61,88.62 L101.77,88.62 L102.92,88.62 L104.08,88.62 L105.24,88.62 L106.39,88.62 L107.55,88.62 L108.71,88.62 L109.86,88.62 L111.02,88.62 L112.18,88.62 L113.33,88.62 L114.49,88.62 L115.65,88.63 L116.81,88.63 L117.96,88.63 L119.12,88.63 L120.28,88.63 L121.43,88.63 L122.59,88.63 L123.75,88.63 L124.90,88.63 L126.06,88.63 L127.22,88.63 L128.37,88.64 L129.53,88.64 L130.69,88.64 L131.84,88.64 L133.00,88.64 L134.16,88.64 L135.31,88.64 L136.47,88.65 L137.63,88.65 L138.78,88.65 L139.94,88.65 L141.10,88.65 L142.25,88.65 L143.41,88.66 L144.57,88.66 L145.72,88.66 L146.88,88.66 L148.04,88.67 L149.19,88.67 L150.35,88.67 L151.51,88.67 L152.66,88.68 L153.82,88.68 L154.98,88.68 L156.13,88.69 L157.29,88.69 L158.45,88.69 L159.60,88.70 L160.76,88.70 L161.92,88.70 L163.07,88.71 L164.23,88.71 L165.39,88.72 L166.54,88.72 L167.70,88.73 L168.86,88.73 L170.01,88.74 L171.17,88.74 L172.33,88.75 L173.48,88.76 L174.64,88.76 L175.80,88.77 L176.95,88.78 L178.11,88.78 L179.27,88.79 L180.42,88.80 L181.58,88.81 L182.74,88.82 L183.89,88.83 L185.05,88.84 L186.21,88.85 L187.36,88.86 L188.52,88.87 L189.68,88.88 L190.83,88.89 L191.99,88.90 L193.15,88.91 L194.30,88.93 L195.46,88.94 L196.62,88.96 L197.77,88.97 L198.93,88.99 L200.09,89.00 L201.24,89.02 L202.40,89.04 L203.56,89.06 L204.71,89.08 L205.87,89.10 L207.03,89.12 L208.18,89.14 L209.34,89.17 L210.50,89.19 L211.65,89.22 L212.81,89.24 L213.97,89.27 L215.12,89.30 L216.28,89.33 L217.44,89.36 L218.59,89.39 L219.75,89.43 L220.91,89.46 L222.06,89.50 L223.22,89.54 L224.38,89.58 L225.53,89.62 L226.69,89.66 L227.85,89.71 L229.00,89.76 L230.16,89.81 L231.32,89.86 L232.48,89.91 L233.63,89.97 L234.79,90.03 L235.95,90.09 L237.10,90.15 L238.26,90.22 L239.42,90.28 L240.57,90.36 L241.73,90.43 L242.89,90.51 L244.04,90.59 L245.20,90.67 L246.36,90.76 L247.51,90.85 L248.67,90.95 L249.83,91.05 L250.98,91.15 L252.14,91.26 L253.30,91.37 L254.45,91.48 L255.61,91.60 L256.77,91.73 L257.92,91.86 L259.08,92.00 L260.24,92.14 L261.39,92.28 L262.55,92.44 L263.71,92.59 L264.86,92.76 L266.02,92.93 L267.18,93.10 L268.33,93.29 L269.49,93.48 L270.65,93.68 L271.80,93.88 L272.96,94.09 L274.12,94.31 L275.27,94.54 L276.43,94.78 L277.59,95.02 L278.74,95.28 L279.90,95.54 L281.06,95.81 L282.21,96.09 L283.37,96.38 L284.53,96.69 L285.68,97.00 L286.84,97.32" fill="none" stroke="#aa5500" stroke-width="1.3" stroke-dasharray="1.1 3.06" stroke-dashoffset="-2.75"/>
<path d="M286.84,97.32 L287.36,97.47 L287.88,97.62 L288.40,97.77 L288.92,97.92 L289.44,98.08 L289.96,98.24 L290.49,98.40 L291.01,98.57 L291.53,98.73 L292.05,98.90 L292.57,99.07 L293.09,99.24 L293.61,99.42 L294.13,99.60 L294.65,99.78 L295.17,99.96 L295.69,100.15 L296.21,100.33 L296.74,100.52 L297.26,100.72 L297.78,100.91 L298.30,101.11 L298.82,101.31 L299.34,101.51 L299.86,101.72 L300.38,101.93 L300.90,102.14 L301.42,102.35 L301.94,102.57 L302.46,102.79 L302.98,103.01 L303.51,103.23 L304.03,103.46 L304.55,103.69 L305.07,103.92 L305.59,104.16 L306.11,104.39 L306.63,104.63 L307.15,104.88 L307.67,105.12 L308.19,105.37 L308.71,105.62 L309.23,105.88 L309.76,106.14 L310.28,106.40 L310.80,106.66 L311.32,106.92 L311.84,107.19 L312.36,107.46 L312.88,107.74 L313.40,108.02 L313.92,108.30 L314.44,108.58 L314.96,108.86 L315.48,109.15 L316.00,109.44 L316.53,109.74 L317.05,110.03 L317.57,110.33 L318.09,110.64 L318.61,110.94 L319.13,111.25 L319.65,111.56 L320.17,111.87 L320.69,112.19 L321.21,112.51 L321.73,112.83 L322.25,113.16 L322.78,113.49 L323.30,113.82 L323.82,114.15 L324.34,114.48 L324.86,114.82 L325.38,115.16 L325.90,115.51 L326.42,115.86 L326.94,116.20 L327.46,116.56 L327.98,116.91 L328.50,117.27 L329.02,117.63 L329.55,117.99 L330.07,118.36 L330.59,118.72 L331.11,119.09 L331.63,119.47 L332.15,119.84 L332.67,120.22 L333.19,120.60 L333.71,120.98 L334.23,121.37 L334.75,121.75 L335.27,122.14 L335.80,122.54 L336.32,122.93 L336.84,123.33 L337.36,123.72 L337.88,124.13 L338.40,124.53 L338.92,124.93 L339.44,125.34 L339.96,125.75 L340.48,126.16 L341.00,126.58 L341.52,126.99 L342.04,127.41 L342.57,127.83 L343.09,128.25 L343.61,128.68 L344.13,129.10 L344.65,129.53 L345.17,129.96 L345.69,130.39 L346.21,130.82 L346.73,131.26 L347.25,131.69 L347.77,132.13 L348.29,132.57 L348.82,133.01 L349.34,133.46 L349.86,133.90 L350.38,134.35 L350.90,134.79 L351.42,135.24 L351.94,135.69 L352.46,136.15 L352.98,136.60 L353.50,137.05 L354.02,137.51 L354.54,137.96 L355.06,138.42 L355.59,138.88 L356.11,139.34 L356.63,139.80 L357.15,140.27 L357.67,140.73 L358.19,141.19 L358.71,141.66 L359.23,142.13 L359.75,142.59 L360.27,143.06 L360.79,143.53 L361.31,144.00 L361.84,144.47 L362.36,144.94 L362.88,145.41 L363.40,145.88 L363.92,146.36 L364.44,146.83 L364.96,147.30 L365.48,147.78 L366.00,148.25 L366.52,148.73 L367.04,149.20 L367.56,149.68 L368.08,150.15 L368.61,150.63 L369.13,151.11 L369.65,151.58 L370.17,152.06 L370.69,152.54 L371.21,153.01 L371.73,153.49 L372.25,153.97 L372.77,154.44 L373.29,154.92 L373.81,155.40 L374.33,155.87 L374.86,156.35 L375.38,156.83 L375.90,157.30 L376.42,157.78 L376.94,158.25 L377.46,158.73 L377.98,159.20 L378.50,159.67 L379.02,160.15 L379.54,160.62 L380.06,161.09 L380.58,161.56 L381.10,162.03 L381.63,162.50 L382.15,162.97 L382.67,163.44 L383.19,163.91 L383.71,164.37 L384.23,164.84 L384.75,165.30 L385.27,165.77 L385.79,166.23 L386.31,166.69 L386.83,167.15 L387.35,167.61 L387.88,168.07 L388.40,168.53 L388.92,168.99 L389.44,169.44 L389.96,169.89 L390.48,170.35 L391.00,170.80" fill="none" stroke="#aa5500" stroke-width="1.3"/>
<circle cx="111.08" cy="97.79" r="2.2" fill="#ff0000"/>
<circle cx="191.3" cy="97.77" r="2.2" fill="#ff0000"/>
<circle cx="228.05" cy="97.46" r="2.2" fill="#ff0000"/>
<circle cx="249.7" cy="97.45" r="2.2" fill="#ff0000"/>
<circle cx="265.16" cy="97.64" r="2.2" fill="#ff0000"/>
<circle cx="277.0" cy="97.45" r="2.2" fill="#ff0000"/>
<circle cx="286.84" cy="97.32" r="2.2" fill="#ff0000"/>
<rect x="55.5" y="24.4" width="335.5" height="206.79999999999998" fill="none" stroke="#5a5a5a" stroke-width="1"/>
<line x1="111.5" y1="231.2" x2="111.5" y2="227.79999999999998" stroke="#666" stroke-width="0.55"/>
<line x1="111.5" y1="24.4" x2="111.5" y2="27.799999999999997" stroke="#666" stroke-width="0.55"/>
<line x1="235.45" y1="231.2" x2="235.45" y2="227.79999999999998" stroke="#666" stroke-width="0.55"/>
<line x1="235.45" y1="24.4" x2="235.45" y2="27.799999999999997" stroke="#666" stroke-width="0.55"/>
<line x1="359.05" y1="231.2" x2="359.05" y2="227.79999999999998" stroke="#666" stroke-width="0.55"/>
<line x1="359.05" y1="24.4" x2="359.05" y2="27.799999999999997" stroke="#666" stroke-width="0.55"/>
<line x1="55.5" y1="201.5" x2="58.9" y2="201.5" stroke="#666" stroke-width="0.55"/>
<line x1="391.0" y1="201.5" x2="387.6" y2="201.5" stroke="#666" stroke-width="0.55"/>
<line x1="55.5" y1="164.5" x2="58.9" y2="164.5" stroke="#666" stroke-width="0.55"/>
<line x1="391.0" y1="164.5" x2="387.6" y2="164.5" stroke="#666" stroke-width="0.55"/>
<line x1="55.5" y1="127.5" x2="58.9" y2="127.5" stroke="#666" stroke-width="0.55"/>
<line x1="391.0" y1="127.5" x2="387.6" y2="127.5" stroke="#666" stroke-width="0.55"/>
<line x1="55.5" y1="89.5" x2="58.9" y2="89.5" stroke="#666" stroke-width="0.55"/>
<line x1="391.0" y1="89.5" x2="387.6" y2="89.5" stroke="#666" stroke-width="0.55"/>
<line x1="55.5" y1="52.5" x2="58.9" y2="52.5" stroke="#666" stroke-width="0.55"/>
<line x1="391.0" y1="52.5" x2="387.6" y2="52.5" stroke="#666" stroke-width="0.55"/>
<text x="97.2" y="249.6" font-size="15.3">10<tspan dy="-6.7" dx="0.5" font-size="9.6" stroke-width="0.2">12</tspan></text>
<text x="221.14999999999998" y="249.6" font-size="15.3">10<tspan dy="-6.7" dx="0.5" font-size="9.6" stroke-width="0.2">13</tspan></text>
<text x="344.75" y="249.6" font-size="15.3">10<tspan dy="-6.7" dx="0.5" font-size="9.6" stroke-width="0.2">14</tspan></text>
<text x="51.8" y="207.55" font-size="15.3" text-anchor="end">10<tspan dy="-6" font-size="10.4" stroke-width="0.2">−1</tspan></text>
<text x="51.8" y="170.55" font-size="15.3" text-anchor="end">10<tspan dy="-6" font-size="10.4" stroke-width="0.2">0</tspan></text>
<text x="51.8" y="133.55" font-size="15.3" text-anchor="end">10<tspan dy="-6" font-size="10.4" stroke-width="0.2">1</tspan></text>
<text x="51.8" y="95.55" font-size="15.3" text-anchor="end">10<tspan dy="-6" font-size="10.4" stroke-width="0.2">2</tspan></text>
<text x="51.8" y="58.55" font-size="15.3" text-anchor="end">10<tspan dy="-6" font-size="10.4" stroke-width="0.2">3</tspan></text>
<text x="67.6" y="134.3" font-size="15">SO(10)</text>
<text x="69.2" y="179.8" font-size="15">PS</text>
<text x="67.6" y="208" font-size="15">SU(5)<tspan dy="3" font-size="10.5">std</tspan></text>
<text x="121.4" y="45.4" font-size="14.9" stroke-width="0.22">tan<tspan font-style="italic">β</tspan> = <tspan fill="#800080" stroke="#800080">2</tspan>, <tspan fill="#ff00ff" stroke="#ff00ff">10</tspan>, <tspan fill="#0000ff" stroke="#0000ff">20</tspan>, <tspan fill="#00aa00" stroke="#00aa00">30</tspan>, <tspan fill="#00ff00" stroke="#00ff00">40</tspan>, <tspan fill="#ff8000" stroke="#ff8000">50</tspan>, <tspan fill="#aa5500" stroke="#aa5500">60</tspan></text>
<text x="194.2" y="271.5" font-size="15"><tspan font-style="italic">M</tspan><tspan dy="2.4" font-size="10.5" font-style="italic">T</tspan><tspan dy="-2.4">[GeV]</tspan></text>
<g transform="translate(13.2,186.6) rotate(-90)"><text x="0.0" y="0" font-size="15">(</text><text x="5.9" y="0" font-size="15">Γ</text><text x="13.8" y="3.0" font-size="10.8" font-style="italic">ν</text><text x="20.3" y="3.5" font-size="7.5" font-style="italic">i</text><text x="23.1" y="3.7" font-size="10.5" font-style="italic">K</text><text x="30.6" y="0.4" font-size="8.5">+</text><text x="36.0" y="0" font-size="15">/</text><text x="40.0" y="0" font-size="15">Γ</text><text x="49.4" y="3.0" font-size="10.8" font-style="italic">ν</text><text x="56.6" y="3.5" font-size="7.5" font-style="italic">i</text><text x="59.0" y="3.6" font-size="11.2" font-style="italic">π</text><text x="66.6" y="0.0" font-size="7.5">+</text><text x="72.0" y="0" font-size="15">)</text><text x="76.6" y="3.0" font-size="10.8">IMDM75</text><line x1="14.6" y1="-4.8" x2="18.4" y2="-4.8" stroke="#111" stroke-width="0.8"/><line x1="50.2" y1="-4.8" x2="54.0" y2="-4.8" stroke="#111" stroke-width="0.8"/></g>
</svg>
</body></html>
